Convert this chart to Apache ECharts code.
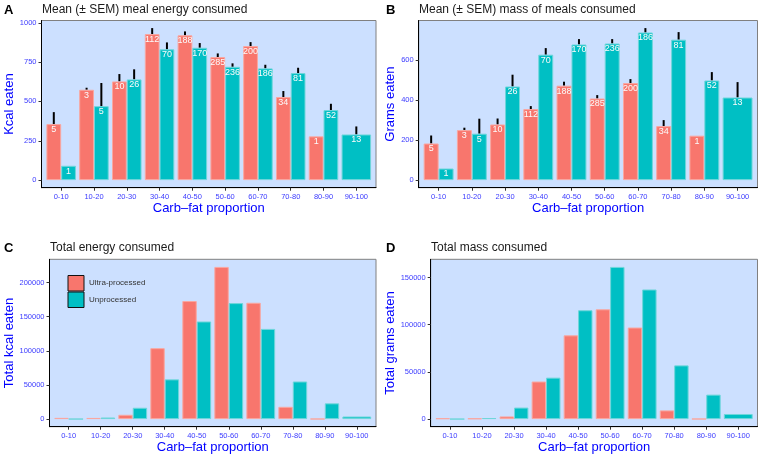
<!DOCTYPE html>
<html>
<head>
<meta charset="utf-8">
<script src="https://cdn.jsdelivr.net/npm/echarts@6/dist/echarts.min.js"></script>
<style>html,body{margin:0;padding:0;background:#fff}#c{width:762px;height:460px}</style>
</head>
<body>
<div id="c"></div>
<script>
const categories = ['0-10','10-20','20-30','30-40','40-50','50-60','60-70','70-80','80-90','90-100'];
const countsUltra  = [5, 3, 10, 112, 188, 285, 200, 34, 1, null];
const countsUnproc = [1, 5, 26, 70, 170, 236, 186, 81, 52, 13];

const kcalMeanUltra  = [356, 574, 627, 928, 920, 782, 852, 528, 278, null];
const kcalSemUltra   = [76, 13, 47, 38, 25, 23, 25, 38, null, null];
const kcalMeanUnproc = [91, 470, 640, 831, 841, 720, 710, 680, 445, 290];
const kcalSemUnproc  = [null, 147, 64, 44, 30, 22, 23, 34, 40, 51];

const gramsMeanUltra  = [183, 250, 278, 355, 472, 408, 485, 270, 222, null];
const gramsSemUltra   = [40, 12, 30, 15, 20, 17, 20, 30, null, null];
const gramsMeanUnproc = [58, 232, 468, 627, 678, 683, 738, 702, 498, 413];
const gramsSemUnproc  = [null, 75, 59, 33, 27, 22, 22, 38, 42, 77];

const kcalTotalUltra  = [1800, 1700, 6300, 103900, 172900, 222900, 170400, 18000, 300, null];
const kcalTotalUnproc = [90, 2350, 16600, 58200, 143000, 169900, 132100, 55100, 23100, 3800];
const gramsTotalUltra  = [900, 750, 2800, 39800, 88700, 116300, 97000, 9200, 200, null];
const gramsTotalUnproc = [60, 1150, 12200, 43900, 115300, 161200, 137300, 56900, 25900, 5400];

const yTicksKcal = [0, 250, 500, 750, 1000];
const yTicksGrams = [0, 200, 400, 600];
const yTicksTotalKcal = [0, 50000, 100000, 150000, 200000];
const yTicksTotalGrams = [0, 50000, 100000, 150000];

const FONT = 'Liberation Sans, Arial, sans-serif';
const RED = '#F8766D', TEAL = '#00BFC4';
const RED_EDGE = '#f9a7a0', TEAL_EDGE = '#6fd6da';
const BG = '#cce0ff';
const TICKCOL = '#3b3bff', TITLECOL = '#0000ff';

const panels = [
  {letter:'A', title:'Mean (\u00b1 SEM) meal energy consumed', rect:[41.5,20.5,376,187.7],
   ultra:kcalMeanUltra, unproc:kcalMeanUnproc, semU:kcalSemUltra, semP:kcalSemUnproc, labels:true,
   ticks:yTicksKcal, yName:'Kcal eaten', nameGap:23, letterX:4, titleX:42, titleY:3.5},
  {letter:'B', title:'Mean (\u00b1 SEM) mass of meals consumed', rect:[418.7,20.5,757.5,187.7],
   ultra:gramsMeanUltra, unproc:gramsMeanUnproc, semU:gramsSemUltra, semP:gramsSemUnproc, labels:true,
   ticks:yTicksGrams, yName:'Grams eaten', nameGap:20.5, letterX:386, titleX:419, titleY:3.5},
  {letter:'C', title:'Total energy consumed', rect:[49.5,259.3,376,426.7],
   ultra:kcalTotalUltra, unproc:kcalTotalUnproc, semU:null, semP:null, labels:false,
   ticks:yTicksTotalKcal, yName:'Total kcal eaten', nameGap:32.5, letterX:4, titleX:50, titleY:241.5},
  {letter:'D', title:'Total mass consumed', rect:[430.7,259.3,757.5,426.7],
   ultra:gramsTotalUltra, unproc:gramsTotalUnproc, semU:null, semP:null, labels:false,
   ticks:yTicksTotalGrams, yName:'Total grams eaten', nameGap:33, letterX:386, titleX:431, titleY:241.5}
];

const option = {animation:false, textStyle:{fontFamily:FONT}, title:[], grid:[], xAxis:[], yAxis:[], series:[],
  legend:{data:['Ultra-processed','Unprocessed'], orient:'vertical', left:67.5, top:275, padding:0, itemWidth:16, itemHeight:15.5,
    itemGap:0, icon:'rect', selectedMode:false, itemStyle:{borderColor:'#111', borderWidth:1},
    textStyle:{fontSize:8, color:'#333', fontFamily:FONT}}};

function errRender(params, api){
  const s = api.value(2);
  if (s == null || isNaN(s)) return null;
  const m = api.value(1);
  const p0 = api.coord([api.value(0), m]);
  const p1 = api.coord([api.value(0), m + s]);
  const band = api.size([1, 0])[0];
  const cx = p0[0] + api.value(3) * band;
  return {type:'line', shape:{x1:cx, y1:p0[1], x2:cx, y2:p1[1]}, style:{stroke:'#000', lineWidth:2}};
}

panels.forEach((p, k) => {
  const [L, T, R, B] = p.rect;
  const w = R - L, h = B - T;
  const inset = w * 0.1 / 10.2;
  let top = 0;
  p.ultra.forEach((v,i)=>{ if(v!=null) top = Math.max(top, v + ((p.semU && p.semU[i]) || 0)); });
  p.unproc.forEach((v,i)=>{ if(v!=null) top = Math.max(top, v + ((p.semP && p.semP[i]) || 0)); });
  const yMin = -0.05 * top, yMax = 1.05 * top;

  option.title.push({text:p.letter, left:p.letterX, top:p.titleY, padding:0, textStyle:{fontSize:13, fontWeight:'bold', color:'#000', fontFamily:FONT}});
  option.title.push({text:p.title, left:p.titleX, top:p.titleY, padding:0, textStyle:{fontSize:12, fontWeight:'normal', color:'#1a1a1a', fontFamily:FONT}});

  option.grid.push({left:L, top:T, width:w, height:h, show:true, backgroundColor:BG, borderColor:'#808080', borderWidth:1});
  option.grid.push({left:L + inset, top:T, width:w - 2*inset, height:h, show:false});

  option.xAxis.push({type:'value', gridIndex:2*k, min:0, max:1, position:'bottom',
    axisLine:{show:true, onZero:false, lineStyle:{color:'#000', width:1}}, axisTick:{show:false}, axisLabel:{show:false}, splitLine:{show:false}});
  option.xAxis.push({type:'category', gridIndex:2*k+1, data:categories, position:'bottom',
    axisLine:{show:false, onZero:false}, axisTick:{show:true, alignWithLabel:true, length:3, lineStyle:{color:'#333'}},
    axisLabel:{interval:0, fontSize:7.5, color:TICKCOL, margin:5, fontFamily:FONT},
    name:'Carb\u2013fat proportion', nameLocation:'middle', nameGap:14,
    nameTextStyle:{fontSize:13, color:TITLECOL, fontFamily:FONT}});
  option.xAxis.push({type:'category', gridIndex:2*k+1, data:categories, show:false, axisLine:{onZero:false}});

  option.yAxis.push({type:'value', gridIndex:2*k, min:yMin, max:yMax,
    axisLine:{show:true, onZero:false, lineStyle:{color:'#000', width:1}},
    axisTick:{show:true, length:3, customValues:p.ticks, lineStyle:{color:'#333'}},
    axisLabel:{customValues:p.ticks, formatter:v=>String(v), fontSize:7.5, color:TICKCOL, margin:5, fontFamily:FONT},
    splitLine:{show:false},
    name:p.yName, nameLocation:'middle', nameGap:p.nameGap, nameRotate:90,
    nameTextStyle:{fontSize:13, color:TITLECOL, fontFamily:FONT}});
  option.yAxis.push({type:'value', gridIndex:2*k+1, min:yMin, max:yMax, show:false});

  const narrowUnproc = p.unproc.map((v,i)=> p.ultra[i]==null ? null : v);
  const wideUnproc = p.unproc.map((v,i)=> p.ultra[i]==null ? v : null);
  const lab = (counts) => p.labels ? {show:true, position:'insideTop', distance:1, fontSize:9, color:'#fbfbfb', fontFamily:FONT,
      formatter:(d)=> counts[d.dataIndex]==null ? '' : String(counts[d.dataIndex])} : {show:false};

  option.series.push({type:'bar', name:'Ultra-processed', xAxisIndex:3*k+1, yAxisIndex:2*k+1, data:p.ultra,
    barWidth:'45%', barGap:'0%', itemStyle:{color:RED, borderColor:RED_EDGE, borderWidth:1}, label:lab(countsUltra), z:3});
  option.series.push({type:'bar', name:'Unprocessed', xAxisIndex:3*k+1, yAxisIndex:2*k+1, data:narrowUnproc,
    barWidth:'45%', barGap:'0%', itemStyle:{color:TEAL, borderColor:TEAL_EDGE, borderWidth:1}, label:lab(countsUnproc), z:3});
  option.series.push({type:'bar', name:'Unprocessed', xAxisIndex:3*k+2, yAxisIndex:2*k+1, data:wideUnproc,
    barWidth:'90%', itemStyle:{color:TEAL, borderColor:TEAL_EDGE, borderWidth:1}, label:lab(countsUnproc), z:3});

  if (p.semU) {
    const errData = [];
    categories.forEach((c,i)=>{
      if (p.ultra[i]!=null && p.semU[i]!=null) errData.push([i, p.ultra[i], p.semU[i], -0.225]);
      if (p.unproc[i]!=null && p.semP[i]!=null) errData.push([i, p.unproc[i], p.semP[i], p.ultra[i]==null ? 0 : 0.225]);
    });
    option.series.push({type:'custom', name:'err'+k, xAxisIndex:3*k+1, yAxisIndex:2*k+1, data:errData,
      encode:{x:0, y:1}, renderItem:errRender, z:1, silent:true});
  }
});

const chart = echarts.init(document.getElementById('c'), null, {renderer:'canvas'});
chart.setOption(option);
</script>
</body>
</html>
